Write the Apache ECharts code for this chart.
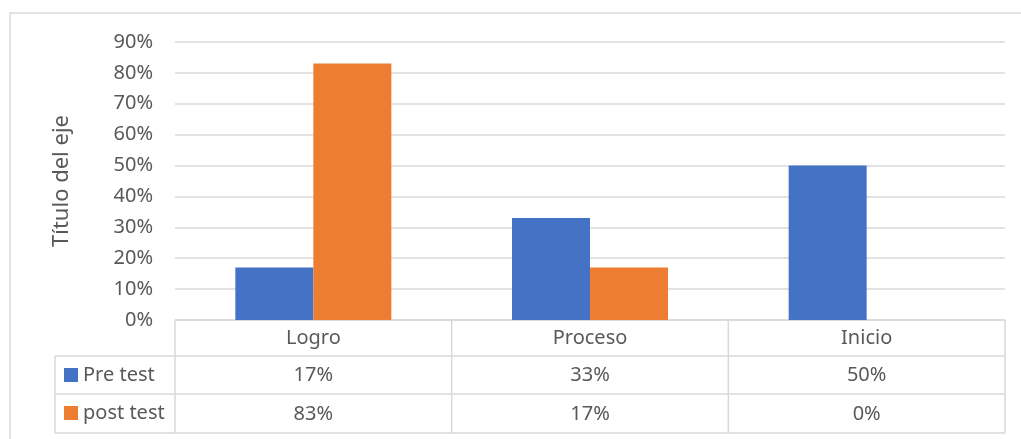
<!DOCTYPE html>
<html>
<head>
<meta charset="utf-8">
<script src="https://cdn.jsdelivr.net/npm/echarts@6/dist/echarts.min.js"></script>
<style>
  html, body { margin: 0; padding: 0; background: #fff; }
  #chart { width: 1021px; height: 439px; }
</style>
</head>
<body>
<div id="chart"></div>
<script>
const categories = ['Logro', 'Proceso', 'Inicio'];
const preTest = [17, 33, 50];
const postTest = [83, 17, 0];
const seriesNames = ['Pre test', 'post test'];
const axisTitle = 'Título del eje';

const FONT = '"Noto Sans", sans-serif';
const TEXT = '#595959';
const LINE = '#d9d9d9';

// table geometry (matches the grid below)
const plotLeft = 175, plotRight = 1005, plotBottom = 320;
const rowBottoms = [356, 394, 433];
const tableLeft = 55;

const pct = (v) => v + '%';

const chart = echarts.init(document.getElementById('chart'));

const colW = (plotRight - plotLeft) / categories.length;
const tableLines = [];
const lineStyle = { stroke: LINE, lineWidth: 1.5 };
// horizontal lines
tableLines.push({ type: 'line', shape: { x1: plotLeft, y1: plotBottom, x2: plotRight, y2: plotBottom }, style: lineStyle });
rowBottoms.forEach((y) => {
  tableLines.push({ type: 'line', shape: { x1: tableLeft, y1: y, x2: plotRight, y2: y }, style: lineStyle });
});
// vertical lines
tableLines.push({ type: 'line', shape: { x1: tableLeft, y1: rowBottoms[0], x2: tableLeft, y2: rowBottoms[2] }, style: lineStyle });
for (let i = 0; i <= categories.length; i++) {
  const x = plotLeft + i * colW;
  tableLines.push({ type: 'line', shape: { x1: x, y1: plotBottom, x2: x, y2: rowBottoms[2] }, style: lineStyle });
}

chart.setOption({
  animation: false,
  textStyle: { fontFamily: FONT },
  color: ['#4472C4', '#ED7D31'],
  grid: { left: plotLeft, right: 1021 - plotRight, top: 42, bottom: 439 - plotBottom, containLabel: false },
  legend: {
    orient: 'vertical',
    left: 64,
    top: 365,
    padding: 0,
    itemWidth: 14,
    itemHeight: 14,
    itemGap: 18,
    icon: 'rect',
    data: seriesNames,
    textStyle: { color: TEXT, fontSize: 20, fontFamily: FONT },
    selectedMode: false
  },
  xAxis: [
    {
      type: 'category',
      data: categories,
      axisLine: { show: false },
      axisTick: { show: false },
      axisLabel: { color: TEXT, fontSize: 20, margin: 8 }
    },
    {
      type: 'category',
      data: preTest.map(pct),
      position: 'bottom',
      offset: 37,
      axisLine: { show: false },
      axisTick: { show: false },
      axisLabel: { color: TEXT, fontSize: 20, margin: 8 }
    },
    {
      type: 'category',
      data: postTest.map(pct),
      position: 'bottom',
      offset: 76,
      axisLine: { show: false },
      axisTick: { show: false },
      axisLabel: { color: TEXT, fontSize: 20, margin: 8 }
    }
  ],
  yAxis: {
    type: 'value',
    min: 0,
    max: 90,
    interval: 10,
    name: axisTitle,
    nameLocation: 'middle',
    nameRotate: 90,
    nameGap: 102,
    nameTextStyle: { color: TEXT, fontSize: 22 },
    axisLabel: { formatter: '{value}%', color: TEXT, fontSize: 20, margin: 22 },
    axisLine: { show: false },
    axisTick: { show: false },
    splitLine: { lineStyle: { color: LINE, width: 1.5 } }
  },
  series: [
    { name: seriesNames[0], type: 'bar', data: preTest, barWidth: 78, barGap: '0%' },
    { name: seriesNames[1], type: 'bar', data: postTest, barWidth: 78, barGap: '0%' }
  ],
  graphic: [
    { type: 'rect', shape: { x: 10, y: 13, width: 1200, height: 600 }, style: { fill: 'none', stroke: LINE, lineWidth: 1.5 }, z: -1 }
  ].concat(tableLines)
});
</script>
</body>
</html>
